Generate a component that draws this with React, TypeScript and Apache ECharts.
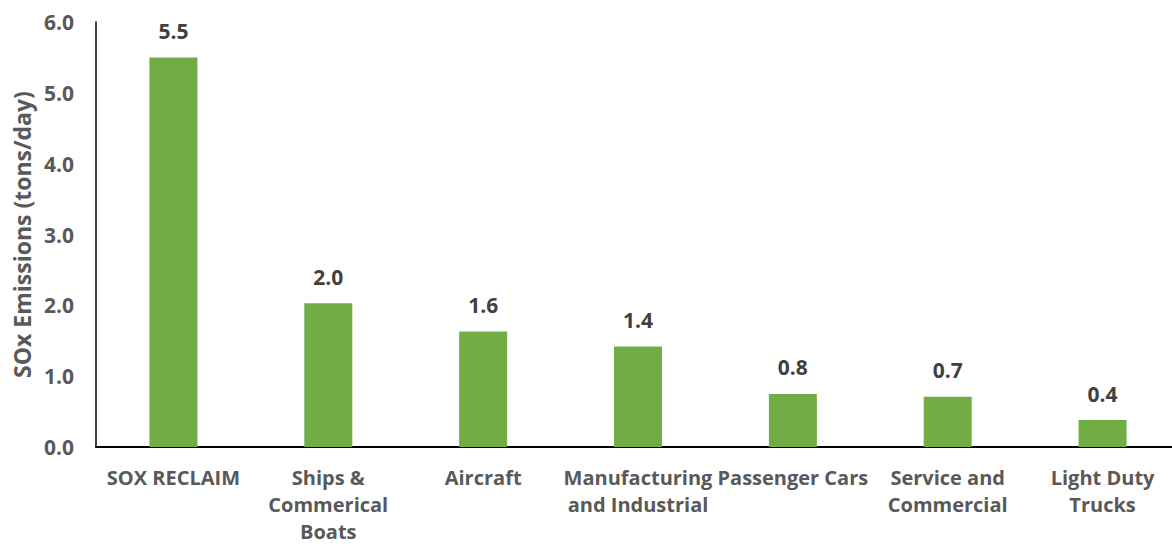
import React, { useEffect, useRef } from "react";
import * as echarts from "echarts";

const categories = [
  "SOX RECLAIM",
  "Ships &\nCommerical\nBoats",
  "Aircraft",
  "Manufacturing\nand Industrial",
  "Passenger Cars",
  "Service and\nCommercial",
  "Light Duty\nTrucks",
];
const emissions = [5.5, 2.03, 1.63, 1.42, 0.75, 0.71, 0.38];
const yAxisTitle = "SOx Emissions (tons/day)";

const FONT = "'Open Sans', Lato, sans-serif";

export default function App() {
  const ref = useRef<HTMLDivElement>(null);
  useEffect(() => {
    if (!ref.current) return;
    const chart = echarts.init(ref.current, null, { renderer: "svg" });
    chart.setOption({
      animation: false,
      backgroundColor: "#ffffff",
      grid: {
        left: 96,
        right: -8,
        top: 22,
        bottom: 99,
        containLabel: false,
        outerBoundsMode: "none",
      },
      xAxis: {
        type: "category",
        data: categories,
        axisLine: { lineStyle: { color: "#000000", width: 2 } },
        axisTick: { show: false },
        axisLabel: {
          interval: 0,
          color: "#595959",
          fontFamily: FONT,
          fontWeight: "bold",
          fontSize: 20,
          lineHeight: 27,
          margin: 17,
        },
      },
      yAxis: {
        type: "value",
        min: 0,
        max: 6,
        interval: 1,
        name: yAxisTitle,
        nameLocation: "middle",
        nameGap: 63,
        nameTextStyle: {
          color: "#595959",
          fontFamily: FONT,
          fontWeight: "bold",
          fontSize: 23,
        },
        axisLine: { show: true, lineStyle: { color: "#000000", width: 1.5 } },
        axisTick: { show: false },
        splitLine: { show: false },
        axisLabel: {
          color: "#595959",
          fontFamily: FONT,
          fontWeight: "bold",
          fontSize: 21,
          margin: 22,
          formatter: (v: number) => v.toFixed(1),
        },
      },
      series: [
        {
          type: "bar",
          data: emissions,
          barWidth: 48,
          itemStyle: { color: "#70AD47" },
          label: {
            show: true,
            position: "top",
            distance: 16,
            color: "#404040",
            fontFamily: FONT,
            fontWeight: "bold",
            fontSize: 21,
            formatter: (p: any) => (p.value as number).toFixed(1),
          },
        },
      ],
    });
    return () => chart.dispose();
  }, []);
  return (
    <div
      ref={ref}
      style={{ position: "fixed", left: 0, top: 0, width: 1172, height: 546 }}
    />
  );
}
